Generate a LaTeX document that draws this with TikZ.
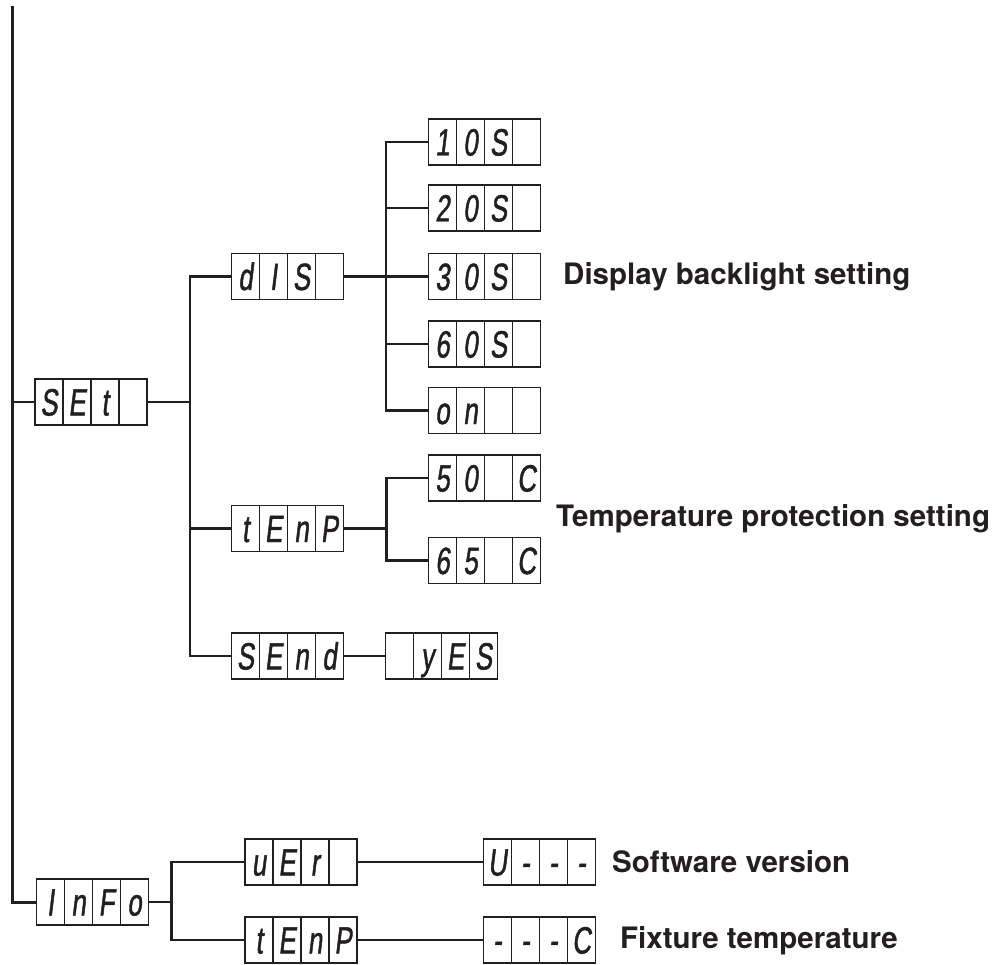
\documentclass[tikz,border=0pt]{standalone}
\usepackage{fontspec}
\setmainfont{TeX Gyre Heros}
\newfontfamily\segfont[FakeStretch=0.68,FakeSlant=0.12,FakeBold=1.2]{Liberation Sans}
\usetikzlibrary{positioning,calc}
\definecolor{ink}{RGB}{35,31,32}
\tikzset{
  lcdbox/.style={draw=ink, line width=1.8pt, minimum width=112pt, minimum height=46pt, inner sep=0pt},
  lcdchar/.style={font=\segfont\fontsize{38}{38}\selectfont, text=ink, inner sep=0pt,
    text height=27pt, text depth=0pt},
  branch/.style={draw=ink, line width=2.4pt},
  note/.style={font=\bfseries\fontsize{29.5}{32}\selectfont, text=ink, anchor=west, inner sep=0pt}
}
% one four-digit display: name, position, four characters
\newcommand{\lcd}[6]{%
  \node[lcdbox] (#1) at (#2) {};
  \foreach \d in {-28,0,28}
    \draw[draw=ink, line width=1.8pt] ([xshift=\d pt]#1.north) -- ([xshift=\d pt]#1.south);
  \node[lcdchar] at ([xshift=-42pt]#1.center) {#3};
  \node[lcdchar] at ([xshift=-14pt]#1.center) {#4};
  \node[lcdchar] at ([xshift=14pt]#1.center) {#5};
  \node[lcdchar] at ([xshift=42pt]#1.center) {#6};
}

\begin{document}
\begin{tikzpicture}[x=1pt, y=-1pt]
\useasboundingbox (0,0) rectangle (1003,965);

% main menu
\lcd{set}{91,402}{S}{E}{t}{}
\lcd{info}{92.5,902}{I}{n}{F}{o}

% set submenu
\lcd{dis}{287.5,276.5}{d}{I}{S}{}
\lcd{tenp}{287.5,528.5}{t}{E}{n}{P}
\lcd{send}{287.5,656}{S}{E}{n}{d}
\lcd{yes}{441.5,656}{}{y}{E}{S}

% backlight values
\lcd{b10}{484.5,142}{1}{0}{S}{}
\lcd{b20}{484.5,208}{2}{0}{S}{}
\lcd{b30}{484.5,276.5}{3}{0}{S}{}
\lcd{b60}{484.5,344}{6}{0}{S}{}
\lcd{bon}{484.5,410.5}{o}{n}{}{}

% temperature values
\lcd{t50}{484.5,478}{5}{0}{}{C}
\lcd{t65}{484.5,560.5}{6}{5}{}{C}

% info submenu
\lcd{ver}{301,862}{u}{E}{r}{}
\lcd{itemp}{301,940}{t}{E}{n}{P}
\lcd{vval}{539.5,862}{U}{-}{-}{-}
\lcd{tval}{539.5,940}{-}{-}{-}{C}

% notes
\node[note] (nback) at (563,277) {Display backlight setting};
\node[note] (ntemp) at (556,519) {Temperature protection setting};
\node[note] (nver) at (612,862) {Software version};
\node[note] (nfix) at (620,941) {Fixture temperature};

% connectors
\coordinate (top) at (12,6);
\draw[branch, line width=3pt] (top) |- (info.west);
\draw[branch] (set.west) -- (set.west -| top);

\draw[branch] (set.east) -- ++(42,0) coordinate (setbus);
\draw[branch] (dis.west) -| (setbus) |- (send.west);
\draw[branch] (tenp.west) -- (tenp.west -| setbus);
\draw[branch] (send.east) -- (yes.west);

\coordinate (disbus) at (386,276.5);
\draw[branch] (dis.east) -- (b30.west);
\draw[branch] (b10.west) -| (disbus) |- (bon.west);
\draw[branch] (b20.west) -- (b20.west -| disbus);
\draw[branch] (b60.west) -- (b60.west -| disbus);

\draw[branch] (tenp.east) -- ++(42,0) coordinate (tbus);
\draw[branch] (t50.west) -| (tbus) |- (t65.west);

\draw[branch] (info.east) -- ++(22,0) coordinate (ibus);
\draw[branch] (ver.west) -| (ibus) |- (itemp.west);
\draw[branch] (ver.east) -- (vval.west);
\draw[branch] (itemp.east) -- (tval.west);
\end{tikzpicture}
\end{document}
